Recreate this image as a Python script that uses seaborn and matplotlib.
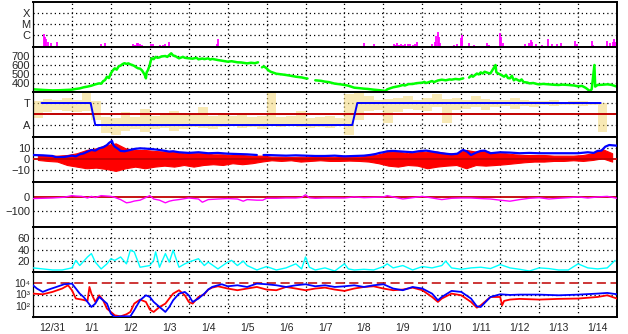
import numpy as np
import pandas as pd
import matplotlib
matplotlib.use("Agg")
import matplotlib.pyplot as plt
import seaborn as sns
from matplotlib.ticker import FixedLocator, NullLocator, FixedFormatter

sns.set_style("white")
plt.rcParams['font.family'] = ['Liberation Sans', 'DejaVu Sans']

# ---------------- data ----------------
day_labels = ["12/31", "1/1", "1/2", "1/3", "1/4", "1/5", "1/6", "1/7",
              "1/8", "1/9", "1/10", "1/11", "1/12", "1/13", "1/14"]

# X-ray flux (W/m2), time in days since 12/31 00:00
xr_t = [0.01, 0.28, 0.31, 0.34, 0.38, 0.46, 0.61, 1.74, 1.84, 2.58,
        2.62, 2.66, 2.70, 2.75, 2.80, 3.02, 3.09, 3.26, 3.33, 3.40,
        3.50, 4.73, 4.75, 8.49, 8.75, 9.26, 9.30, 9.35, 9.40, 9.45,
        9.50, 9.55, 9.62, 9.68, 9.75, 9.80, 9.87, 10.26, 10.32, 10.36,
        10.39, 10.42, 10.46, 10.82, 10.90, 10.99, 11.01, 11.03, 11.20, 11.33,
        11.67, 11.71, 12.00, 12.03, 12.07, 12.63, 12.74, 12.78, 12.81, 12.93,
        13.08, 13.23, 13.32, 13.46, 13.55, 13.93, 13.96, 14.36, 14.39, 14.75,
        14.83, 14.89, 14.93, 14.96]
xr_f = [1.5e-7, 1.2e-6, 6e-7, 4e-7, 2.5e-7, 2e-7, 2.5e-7, 1.5e-7, 2e-7, 1.5e-7,
        1.3e-7, 2e-7, 1.8e-7, 1.5e-7, 1.3e-7, 1.5e-7, 1.5e-7, 1.2e-7, 1.2e-7, 1.5e-7,
        2.5e-7, 1.5e-7, 4e-7, 2e-7, 1.5e-7, 1.5e-7, 1.3e-7, 2e-7, 1.3e-7, 1.5e-7,
        1.3e-7, 1.5e-7, 1.4e-7, 1.6e-7, 1.3e-7, 1.5e-7, 2.5e-7, 1.5e-7, 2.5e-7, 8e-7,
        1.9e-6, 6e-7, 2e-7, 1.3e-7, 1.5e-7, 5e-7, 1.0e-6, 3e-7, 2e-7, 1.2e-7,
        2e-7, 1.3e-7, 1.6e-6, 6e-7, 2e-7, 1.5e-7, 2e-7, 3.5e-7, 2.5e-7, 1.5e-7,
        1.3e-7, 4e-7, 1.5e-7, 1.5e-7, 2e-7, 3e-7, 1.5e-7, 3e-7, 1.3e-7, 3e-7,
        2e-7, 2.5e-7, 4e-7, 2.5e-7]

# Solar wind speed (km/s), segments separated by data gaps
sw_t = [0.00, 0.15, 0.30, 0.50, 0.70, 0.90, 1.00, 1.10, 1.20, 1.30, 1.40, 1.50,
        1.60, 1.70, 1.75, 1.80, 1.85, 1.90, 1.95, 2.00, 2.05, 2.10, 2.15, 2.20,
        2.25, 2.30, 2.35, 2.40, 2.45, 2.50, 2.55, 2.60, 2.65, 2.70, 2.75, 2.80,
        2.85, 2.88, 2.90, 2.92, 2.95, 3.00, 3.02, 3.05, 3.10, 3.15, 3.20, 3.25,
        3.30, 3.40, 3.45, 3.50, 3.55, 3.60, 3.65, 3.75, 3.85, 3.90, 4.00, 4.10,
        4.20, 4.25, 4.35, 4.40, 4.50, 4.55, 4.60, 4.75, 4.85, 5.00, 5.10, 5.25,
        5.35, 5.50, 5.60, 5.70, 5.78,
        5.88, 5.93, 6.00, 6.05, 6.10, 6.25, 6.40, 6.50, 6.60, 6.75, 6.90, 7.00, 7.05,
        7.25, 7.40, 7.50, 7.60, 7.75, 7.90, 8.00, 8.10, 8.25, 8.40, 8.50, 8.60,
        8.75, 8.90, 9.00, 9.05, 9.10, 9.20, 9.25, 9.40, 9.50, 9.55, 9.65, 9.75,
        9.85, 10.00, 10.05, 10.10, 10.25, 10.30, 10.40, 10.50, 10.60, 10.70, 10.75,
        10.85, 10.95, 11.05,
        11.20, 11.25, 11.30, 11.40, 11.45, 11.50, 11.55, 11.60, 11.70, 11.75, 11.88,
        11.90, 11.95, 12.00, 12.10, 12.15, 12.20, 12.25, 12.30, 12.35, 12.40, 12.50,
        12.55, 12.60, 12.70, 12.75, 12.85, 12.95, 13.00, 13.10, 13.25, 13.40, 13.50,
        13.60, 13.75, 13.90, 14.00, 14.10, 14.20, 14.30, 14.35, 14.42, 14.44, 14.50,
        14.60, 14.75, 14.85, 15.00]
sw_v = [330, 326, 322, 318, 320, 324, 326, 334, 340, 352, 360, 370,
        385, 396, 392, 420, 433, 470, 455, 507, 540, 563, 548, 585,
        593, 610, 620, 612, 618, 607, 600, 590, 575, 563, 560, 540,
        505, 480, 452, 520, 540, 600, 640, 675, 665, 690, 680, 685,
        695, 700, 690, 711, 730, 705, 700, 674, 690, 680, 674, 670,
        680, 663, 672, 665, 674, 660, 668, 655, 648, 637, 642, 630,
        628, 618, 625, 620, 630,
        574, 585, 563, 540, 526, 503, 495, 489, 482, 470, 462, 452, 450,
        430, 424, 415, 410, 393, 385, 378, 370, 348, 342, 337, 334,
        326, 320, 315, 311, 330, 345, 352, 365, 378, 372, 388, 389,
        398, 404, 412, 400, 422, 410, 428, 437, 430, 440, 437,
        445, 440, 452,
        460, 481, 470, 505, 495, 518, 505, 525, 510, 507, 600,
        520, 505, 496, 470, 490, 455, 452, 480, 430, 445, 422,
        440, 410, 405, 396, 400, 388, 385, 390, 385, 380, 378,
        382, 378, 372, 363, 368, 345, 311, 330, 600, 360, 378,
        380, 385, 380, 360]
sw_seg = [0] * 77 + [1] * 13 + [2] * 38 + [3] * 48

# IMF sector: T = +1, A = -1
sec_t = [0.22, 1.48, 1.60, 8.20, 8.33, 14.58]
sec_v = [1, 1, -1, -1, 1, 1]
pol_t = list(np.arange(0, 15, 0.25))
pol_lo = [-0.4, 0.2, 0.4, 0.3, 0.2, 0.3, -0.5, -1.7, -1.9, -1.5,
          -1.4, -1.6, -1.4, -1.3, -1.5, -1.4, -1.2, -1.3, -1.4, -1.2,
          -1.1, -1.3, -1.2, -1.4, -1.0, -1.2, -1.1, -1.2, -1.3, -1.2,
          -1.3, -1.1, -1.9, -0.5, 0.3, 0.4, -0.8, 0.2, 0.5, 0.4,
          0.3, 0.6, -0.8, 0.4, 0.5, 0.6, 0.4, 0.6, 0.7, 0.5,
          0.7, 0.6, 0.8, 0.7, 0.8, 0.8, 0.7, 0.8, -1.6, 0.8]
pol_hi = [1.2, 1.4, 1.3, 1.5, 1.3, 1.9, 1.2, -0.3, -0.4, 0.2,
          -0.3, 0.5, -0.2, -0.1, 0.3, 0.0, -0.1, 0.6, -0.2, 0.1,
          -0.2, 0.0, -0.3, -0.2, 1.9, -0.3, -0.2, 0.3, -0.4, -0.3,
          -0.2, -0.4, 1.8, 1.9, 1.6, 1.3, 1.4, 1.5, 1.6, 1.3,
          1.5, 1.8, 1.4, 1.5, 1.3, 1.6, 1.4, 1.3, 1.3, 1.5,
          1.3, 1.2, 1.2, 1.3, 1.1, 1.2, 1.2, 1.1, 1.0, 1.0]

# IMF Bt (nT)
bt_t = [0.0, 0.25, 0.5, 0.6, 0.8, 1.0, 1.1, 1.2, 1.3, 1.4, 1.5, 1.6, 1.7, 1.8,
        1.9, 1.95, 2.0, 2.03, 2.06, 2.1, 2.2, 2.25, 2.35, 2.5, 2.6, 2.75, 2.9,
        3.0, 3.1, 3.25, 3.4, 3.5, 3.6, 3.75, 4.0, 4.25, 4.5, 4.75, 5.0, 5.25,
        5.5, 5.75,
        5.92, 6.0, 6.25, 6.5, 6.75, 7.0, 7.25, 7.5, 7.75, 8.0, 8.25, 8.5, 8.65,
        8.8, 8.9, 9.0, 9.1, 9.25, 9.5, 9.75, 9.9, 10.0, 10.1, 10.25, 10.5, 10.75,
        10.9, 11.0, 11.05, 11.15, 11.25, 11.4, 11.5, 11.6, 11.75, 12.0, 12.25,
        12.5, 12.75, 13.0, 13.25, 13.5, 13.75, 14.0, 14.25, 14.4, 14.5, 14.6,
        14.7, 14.8, 14.9, 15.0]
bt_v = [3.6, 3.3, 2.7, 1.5, 1.8, 3.0, 2.4, 4.2, 5.0, 6.7, 8.2, 7.6, 9.7, 10.6,
        12.7, 14.5, 15.8, 16.4, 13.0, 11.2, 8.8, 7.3, 7.0, 8.2, 9.1, 9.7, 9.4,
        9.1, 8.8, 8.2, 7.3, 6.7, 7.0, 6.1, 5.5, 6.1, 5.2, 5.5, 4.8, 4.5,
        4.2, 3.6,
        3.6, 3.6, 3.3, 3.0, 3.3, 3.0, 2.7, 2.7, 3.0, 2.4, 2.7, 3.0, 3.6,
        4.5, 5.5, 6.1, 7.0, 7.3, 6.7, 6.1, 7.0, 7.3, 7.6, 6.7, 5.2, 4.2,
        4.8, 7.3, 8.2, 6.7, 3.6, 6.1, 7.3, 7.6, 5.2, 6.1, 5.8,
        5.2, 5.5, 5.2, 5.2, 5.2, 5.2, 5.2, 6.1, 5.5, 7.3, 7.6,
        11.2, 12.7, 12.4, 12.1]
bt_seg = [0] * 42 + [1] * 52

# IMF Bz envelope per 6-hour bin (nT)
bz_t = list(np.arange(0, 15, 0.25) + 0.125)
bz_hi = [3.6, 3.0, 3.0, 3.6, 5.2, 8.2, 9.7, 12.7, 14.2, 9.7,
         8.2, 8.2, 7.3, 6.7, 6.7, 5.2, 5.2, 5.2, 4.2, 4.2,
         3.6, 3.6, 3.0, 3.0, 2.1, 2.1, 1.8, 2.1, 1.8, 1.8,
         2.1, 1.8, 2.1, 2.1, 3.0, 4.2, 6.7, 6.7, 5.2, 6.1,
         6.7, 6.7, 5.2, 5.2, 8.2, 6.7, 7.3, 5.2, 5.2, 4.2,
         3.6, 3.6, 3.6, 3.0, 3.0, 3.0, 3.6, 5.2, 9.0, 5.2]
bz_lo = [-0.9, -1.8, -2.4, -5.5, -7.0, -8.5, -7.9, -9.1, -10.9, -8.5,
         -7.0, -8.5, -7.0, -6.1, -7.0, -5.5, -7.0, -5.5, -4.8, -5.5,
         -3.9, -4.8, -3.9, -2.4, -1.2, -1.8, -1.2, -2.4, -1.8, -1.2,
         -1.8, -1.8, -1.5, -1.8, -2.4, -3.9, -6.1, -7.0, -5.5, -6.1,
         -8.5, -7.0, -6.1, -5.5, -8.5, -5.5, -6.1, -5.5, -4.8, -3.9,
         -3.0, -2.4, -2.4, -1.8, -1.8, -1.2, -1.8, -0.9, 0.6, -2.4]

# Dst (nT)
dst_t = [0, 0.5, 0.8, 1.0, 1.1, 1.25, 1.4, 1.5, 1.6, 1.75,
         2.0, 2.1, 2.25, 2.4, 2.5, 2.6, 2.75, 3.0, 3.1, 3.25,
         3.4, 3.5, 3.6, 3.75, 4.0, 4.25, 4.35, 4.5, 4.75, 5.0,
         5.25, 5.4, 5.5, 5.75, 5.9, 6.0, 6.25, 6.5, 6.75, 6.9,
         7.0, 7.1, 7.25, 7.5, 8.0, 8.25, 8.5, 9.0, 9.1, 9.25,
         9.5, 9.75, 10.0, 10.25, 10.5, 10.75, 11.0, 11.25, 11.5, 11.75,
         12.0, 12.25, 12.5, 12.75, 13.0, 13.25, 13.5, 13.75, 14.0, 14.25,
         14.5, 14.75, 15.0]
dst_v = [-13, -9, -4, 7, 4, 2, -9, 2, -6, 7,
         2, -5, -20, -42, -38, -30, -24, 7, -16, -24,
         -42, -31, -25, -20, -9, -16, -38, -20, -16, -13,
         -16, -31, -20, -24, -24, -11, -11, -9, -9, -5,
         13, -8, -11, -9, -9, -2, -7, -2, 7, -2,
         -16, -7, 2, -9, -20, -11, -9, -9, -13, -16,
         -24, -31, -20, -11, -7, -16, -11, -7, -2, -9,
         -2, 2, -11]

# cyan index
cy_t = [0, 0.25, 0.5, 0.75, 1.0, 1.1, 1.2, 1.4, 1.5, 1.6,
        1.75, 1.9, 2.0, 2.1, 2.25, 2.4, 2.5, 2.6, 2.75, 3.0,
        3.1, 3.15, 3.25, 3.4, 3.5, 3.6, 3.75, 3.9, 4.0, 4.25,
        4.4, 4.5, 4.75, 5.0, 5.1, 5.25, 5.4, 5.5, 5.75, 6.0,
        6.25, 6.5, 6.75, 6.9, 7.0, 7.1, 7.25, 7.5, 7.75, 8.0,
        8.1, 8.25, 8.5, 8.75, 9.0, 9.1, 9.25, 9.5, 9.75, 10.0,
        10.25, 10.5, 10.6, 10.75, 11.0, 11.25, 11.5, 11.75, 12.0, 12.25,
        12.5, 12.75, 13.0, 13.25, 13.5, 13.75, 14.0, 14.25, 14.5, 14.75,
        14.95]
cy_v = [7.3, 5.5, 3.6, 3.6, 7.3, 20.6, 11.5, 26.7, 32.7, 17.6,
        5.5, 14.5, 23.6, 20.6, 26.7, 14.5, 38.8, 35.8, 8.5, 11.5,
        20.6, 35.8, 8.5, 32.7, 17.6, 38.8, 8.5, 14.5, 17.6, 23.6,
        11.5, 17.6, 5.5, 17.6, 20.6, 11.5, 19.4, 11.5, 3.6, 9.7,
        3.6, 7.3, 14.5, 5.5, 26.7, 8.5, 3.6, 7.3, 1.8, 14.5,
        5.5, 3.6, 4.8, 3.6, 9.7, 14.5, 7.3, 11.5, 3.6, 9.7,
        7.3, 11.5, 19.4, 7.3, 4.8, 7.3, 8.5, 6.1, 13.3, 7.3,
        4.8, 1.8, 7.3, 6.1, 3.6, 3.6, 14.5, 7.3, 5.5, 7.3,
        20.6]

# electron flux (log10)
eb_t = [0, 0.1, 0.25, 0.4, 0.6, 0.8, 1.0, 1.1, 1.2, 1.3,
        1.4, 1.5, 1.6, 1.7, 1.8, 1.9, 2.0, 2.1, 2.25, 2.5,
        2.6, 2.75, 2.9, 3.0, 3.1, 3.25, 3.4, 3.5, 3.6, 3.75,
        3.9, 4.0, 4.1, 4.25, 4.4, 4.5, 4.6, 4.75, 4.85, 5.0,
        5.25, 5.5, 5.75, 6.0, 6.25, 6.5, 6.75, 7.0, 7.25, 7.5,
        7.75, 8.0, 8.25, 8.5, 8.75, 9.0, 9.25, 9.5, 9.75, 10.0,
        10.25, 10.4, 10.5, 10.75, 11.0, 11.25, 11.4, 11.5, 11.75, 12.0,
        12.25, 12.5, 13.0, 13.5, 14.0, 14.5, 14.75, 15.0]
eb_log = [3.82, 3.53, 3.23, 3.44, 3.67, 3.91, 3.97, 3.53, 3.08, 2.78,
          2.34, 1.89, 2.19, 2.78, 2.49, 2.19, 1.3, 1.0, 1.06, 1.06,
          1.6, 2.49, 2.93, 2.78, 2.34, 1.89, 1.45, 1.89, 2.49, 3.08,
          3.23, 2.93, 2.34, 2.64, 3.08, 3.44, 3.67, 3.82, 3.91, 3.73,
          3.82, 3.67, 3.97, 3.91, 3.82, 3.67, 3.82, 3.91, 3.73, 3.82,
          3.67, 3.73, 3.82, 3.67, 3.82, 3.91, 3.53, 3.38, 3.67, 3.53,
          3.08, 2.49, 2.78, 3.32, 3.23, 2.64, 1.95, 1.89, 2.78, 3.02,
          2.96, 2.99, 2.99, 2.93, 2.99, 3.08, 3.14, 3.02]
er_t = [0, 0.25, 0.5, 0.75, 0.9, 1.0, 1.1, 1.25, 1.4, 1.45,
        1.5, 1.6, 1.7, 1.8, 1.9, 2.0, 2.1, 2.25, 2.4, 2.5,
        2.6, 2.75, 2.9, 3.0, 3.1, 3.25, 3.4, 3.5, 3.6, 3.75,
        3.9, 4.0, 4.1, 4.25, 4.4, 4.5, 4.6, 4.75, 5.0, 5.25,
        5.5, 5.75, 6.0, 6.25, 6.5, 6.75, 7.0, 7.25, 7.5, 7.75,
        8.0, 8.25, 8.5, 8.75, 9.0, 9.25, 9.5, 9.75, 10.0, 10.25,
        10.4, 10.5, 10.75, 11.0, 11.25, 11.4, 11.5, 11.75, 12.0, 12.05,
        12.1, 12.25, 12.5, 13.0, 13.5, 14.0, 14.5, 14.75, 15.0]
er_log = [3.08, 3.02, 3.23, 3.53, 3.82, 3.38, 2.64, 2.55, 2.43, 3.67,
          3.08, 2.34, 2.93, 2.49, 1.74, 1.45, 1.15, 1.06, 1.24, 1.45,
          2.19, 2.55, 2.34, 1.66, 1.45, 1.89, 2.19, 2.64, 3.08, 3.38,
          2.93, 2.34, 2.19, 2.78, 3.02, 3.44, 3.61, 3.73, 3.53, 3.38,
          3.53, 3.67, 3.44, 3.38, 3.67, 3.53, 3.38, 3.53, 3.61, 3.44,
          3.32, 3.53, 3.67, 3.73, 3.53, 3.38, 3.44, 3.61, 3.38, 2.78,
          2.34, 2.64, 3.08, 2.93, 2.34, 1.83, 2.04, 2.78, 2.78, 2.04,
          2.43, 2.55, 2.61, 2.55, 2.61, 2.64, 2.78, 2.93, 2.64]

# ---------------- figure ----------------
W, H = 628, 334
fig = plt.figure(figsize=(W / 100, H / 100), dpi=100)
left_px, right_px, top_px, ph = 33, 617, 2, 45
DARKRED = '#c00000'
DOT = (0, (1, 2.4))
YFS = 8
axes = []
for i in range(7):
    y0 = H - (top_px + (i + 1) * ph)
    ax = fig.add_axes([left_px / W, y0 / H, (right_px - left_px) / W, ph / H])
    ax.set_xlim(0, 15)
    for k in range(1, 15):
        ax.axvline(k, color='black', lw=0.9, ls=DOT, zorder=0.5)
    for s in ['top', 'bottom', 'right']:
        ax.spines[s].set_color('black')
        ax.spines[s].set_linewidth(1.4)
    ax.spines['left'].set_color('black')
    ax.spines['left'].set_linewidth(0.9)
    ax.tick_params(axis='both', length=0, pad=2, labelsize=YFS)
    ax.xaxis.set_major_locator(NullLocator())
    ax.xaxis.set_minor_locator(NullLocator())
    axes.append(ax)

def hgrid(ax, vals):
    for v in vals:
        ax.axhline(v, color='black', lw=0.9, ls=DOT, zorder=0.5)

def clean(ax):
    ax.set_xlabel('')
    ax.set_ylabel('')
    ax.set_xlim(0, 15)

# 1 X-ray
ax = axes[0]
ax.set_yscale('log')
lo1 = 10 ** -7.09
ax.set_ylim(lo1, 1e-3)
ax.vlines(xr_t, lo1, xr_f, color='#ff00ff', lw=1.3)
ax.yaxis.set_major_locator(FixedLocator([1e-6, 1e-5, 1e-4]))
ax.yaxis.set_minor_locator(NullLocator())
ax.set_yticklabels(['C', 'M', 'X'])
hgrid(ax, [1e-6, 1e-5, 1e-4])

# 2 speed
ax = axes[1]
df_sw = pd.DataFrame({'t': sw_t, 'v': sw_v, 'seg': sw_seg})
sns.lineplot(data=df_sw, x='t', y='v', units='seg', estimator=None, sort=False,
             color='#00ff00', linewidth=1.8, ax=ax, legend=False)
ax.set_ylim(300, 800)
ax.set_yticks([400, 500, 600, 700])
hgrid(ax, [400, 500, 600, 700])
clean(ax)

# 3 sector
ax = axes[2]
ax.fill_between(pol_t, pol_lo, pol_hi, step='post', color='#f3d878', alpha=0.55,
                lw=0, zorder=1)
sns.lineplot(x=sec_t, y=sec_v, sort=False, color='#0000ff', linewidth=1.4, ax=ax, zorder=3)
ax.axhline(0, color=DARKRED, lw=1.4, zorder=2)
ax.set_ylim(-2.09, 2.0)
ax.set_yticks([-1, 1])
ax.set_yticklabels(['A', 'T'])
hgrid(ax, [-1, 1])
clean(ax)

# 4 Bz / Bt
ax = axes[3]
ax.fill_between(bz_t, bz_lo, bz_hi, color='#ff0000', lw=0.8, edgecolor='#ff0000', zorder=2)
df_bt = pd.DataFrame({'t': bt_t, 'v': bt_v, 'seg': bt_seg})
sns.lineplot(data=df_bt, x='t', y='v', units='seg', estimator=None, sort=False,
             color='#0000ff', linewidth=1.6, ax=ax, legend=False, zorder=3)
ax.axhline(0, color=DARKRED, lw=1.3, zorder=4)
ax.set_ylim(-21, 20)
ax.set_yticks([-10, 0, 10])
hgrid(ax, [-10, 10])
clean(ax)

# 5 Dst
ax = axes[4]
sns.lineplot(x=dst_t, y=dst_v, sort=False, color='#ff00ff', linewidth=1.0,
             ax=ax, zorder=3)
ax.axhline(0, color=DARKRED, lw=1.3, zorder=2)
ax.set_ylim(-207, 100)
ax.set_yticks([-100, 0])
hgrid(ax, [-100])
clean(ax)

# 6 cyan
ax = axes[5]
sns.lineplot(x=cy_t, y=cy_v, sort=False, color='#00ffff', linewidth=1.0,
             ax=ax, zorder=3)
ax.set_ylim(0, 80)
ax.set_yticks([20, 40, 60])
hgrid(ax, [20, 40, 60])
clean(ax)

# 7 electrons
ax = axes[6]
ax.set_yscale('log')
sns.lineplot(x=er_t, y=10 ** np.array(er_log), sort=False, color='#ff0000',
             linewidth=1.3, ax=ax, zorder=3)
sns.lineplot(x=eb_t, y=10 ** np.array(eb_log), sort=False, color='#0000ff',
             linewidth=1.3, ax=ax, zorder=4)
ax.set_ylim(10, 1e5)
ax.yaxis.set_major_locator(FixedLocator([1e2, 1e3, 1e4]))
ax.yaxis.set_minor_locator(NullLocator())
ax.set_yticklabels(['10\u00b2', '10\u00b3', '10\u2074'])
ax.tick_params(axis='y', labelsize=7.5)
hgrid(ax, [1e2, 1e3])
ax.axhline(1e4, color=DARKRED, lw=1.1, ls=(0, (6, 3)), zorder=2)
clean(ax)
ax.xaxis.set_minor_locator(FixedLocator([k + 0.5 for k in range(15)]))
ax.xaxis.set_minor_formatter(FixedFormatter(day_labels))
ax.tick_params(axis='x', which='minor', length=0, pad=4, labelsize=7.5)

fig.savefig('out.png', dpi=100)
